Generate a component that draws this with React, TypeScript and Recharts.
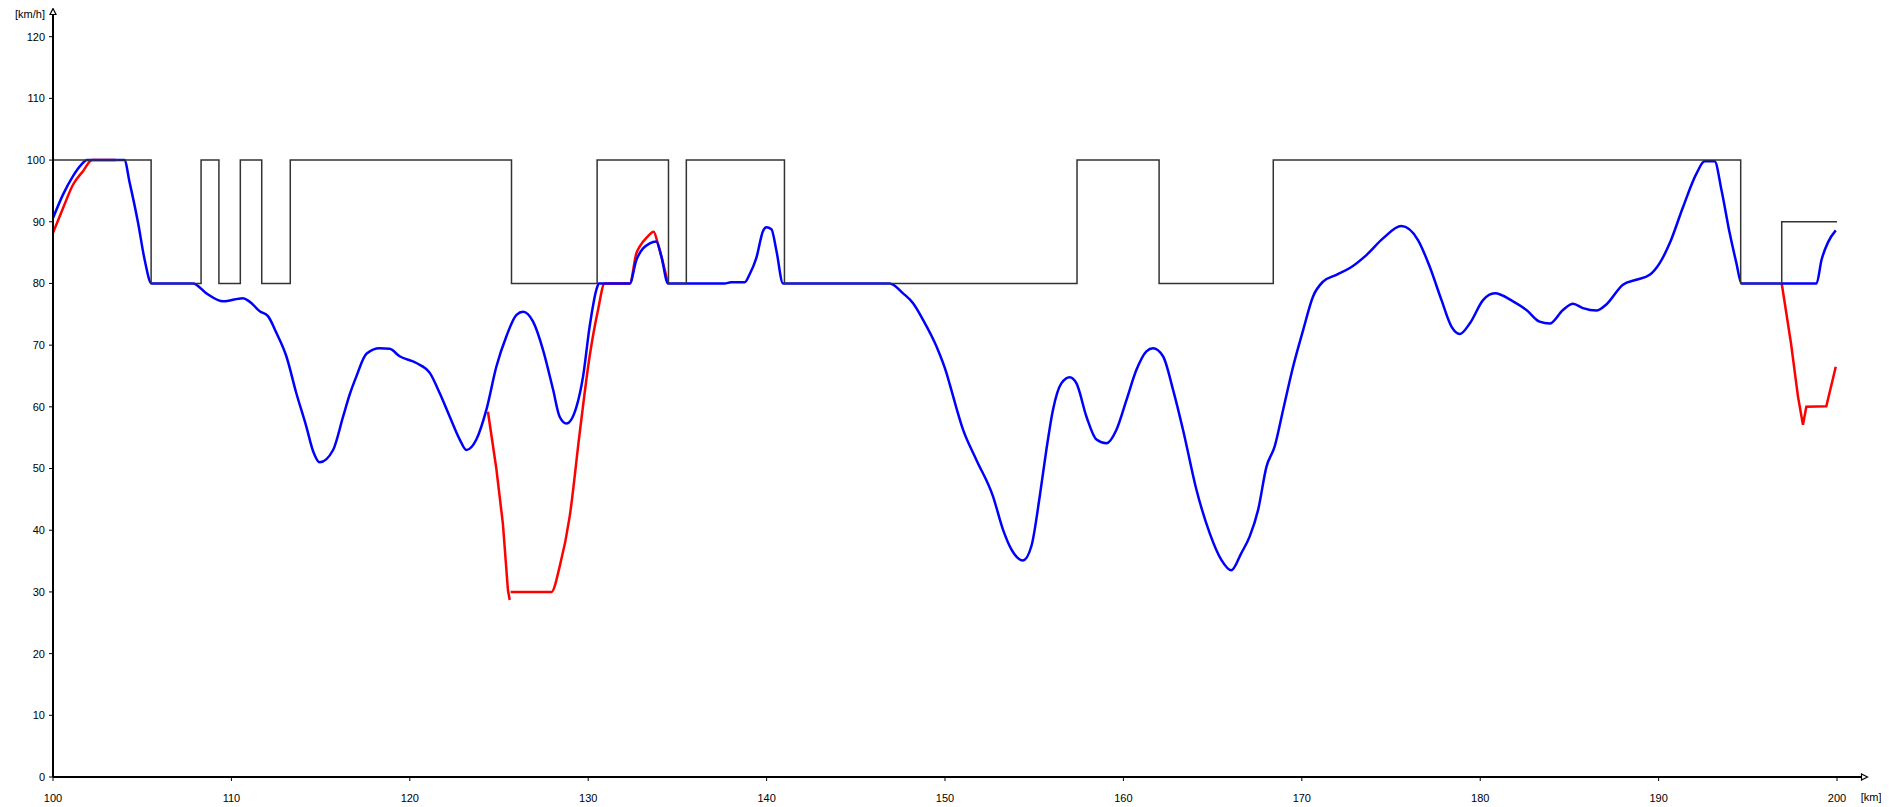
import React from 'react';
import { LineChart, Line, XAxis, YAxis, ReferenceDot } from 'recharts';

// speed limit (step), km -> km/h
const limitKm = [100, 105.5, 108.3, 109.3, 110.5, 111.7, 113.3, 125.7, 130.5, 134.5, 135.5, 141.0, 157.4, 162.0, 168.4, 194.6, 196.9, 200];
const limitKmh = [100, 80, 100, 80, 100, 80, 100, 80, 100, 80, 100, 80, 100, 80, 100, 80, 90, 90];

// driven speed (blue)
const speedKm = [
  100.0, 100.56, 101.12, 101.6, 101.9, 104.0, 104.3, 104.77, 105.14, 105.52, 107.85, 108.6, 109.53, 110.65, 111.0,
  111.59, 112.05, 112.52, 113.08, 113.64, 114.2, 114.58, 114.95, 115.7, 116.26, 116.63, 117.0, 117.57, 118.31, 118.87,
  119.43, 120.37, 121.12, 121.68, 122.24, 122.8, 123.17, 123.73, 124.29, 124.85, 125.41, 125.98, 126.35, 126.91, 127.47,
  128.03, 128.4, 128.78, 129.34, 129.71, 130.08, 130.46, 130.6, 132.33, 132.7, 133.45, 133.82, 134.1, 134.47, 137.65,
  138.0, 138.77, 139.05, 139.43, 139.8, 139.99, 140.27, 140.55, 140.92, 146.9, 147.65, 148.21, 148.77, 149.52, 150.08,
  150.27, 151.01, 151.76, 152.69, 153.25, 153.72, 154.37, 154.84, 155.31, 155.68, 156.05, 156.52, 156.99, 157.37, 157.93,
  158.49, 159.05, 159.61, 160.17, 160.73, 161.29, 161.66, 162.22, 162.78, 163.34, 164.09, 164.84, 165.49, 166.05, 166.61,
  167.08, 167.55, 168.02, 168.48, 168.95, 169.51, 170.07, 170.63, 171.19, 171.94, 172.69, 173.62, 174.55, 175.58, 176.52,
  177.17, 177.83, 178.39, 178.85, 179.41, 180.16, 180.81, 181.84, 182.59, 183.33, 183.89, 184.64, 185.2, 185.76, 186.51,
  187.07, 188.0, 188.75, 189.5, 190.06, 190.62, 191.37, 192.12, 192.58, 193.14, 193.52, 193.98, 194.36, 194.64, 198.85,
  199.13, 199.5, 199.93,
];
const speedKmh = [
  90.6, 94.4, 97.4, 99.3, 100, 100, 96.3, 89.8, 83.8, 80, 80, 78.4, 77.1, 77.6, 77.1,
  75.5, 74.7, 72.0, 68.2, 62.2, 56.8, 52.8, 51.0, 53.0, 58.4, 62.0, 64.9, 68.6, 69.5, 69.4,
  68.2, 67.1, 65.5, 62.2, 58.4, 54.7, 53.0, 54.7, 59.5, 66.5, 71.4, 74.9, 75.4, 73.8, 69.2,
  62.8, 58.4, 57.3, 60.0, 64.9, 73.0, 79.0, 80, 80, 83.8, 86.5, 86.8, 84.4, 80, 80,
  80.2, 80.2, 81.5, 84.2, 88.5, 89.1, 88.8, 85.3, 80, 80, 78.4, 76.8, 74.1, 69.8, 65.5,
  63.6, 56.3, 51.4, 45.5, 40.1, 36.9, 35.1, 37.4, 45.5, 53.0, 59.5, 63.8, 64.8, 63.8, 58.4,
  54.7, 54.1, 56.3, 61.1, 66.0, 69.0, 69.5, 68.2, 62.8, 56.3, 46.6, 39.5, 35.2, 33.5, 36.3,
  39.0, 43.3, 50.3, 53.6, 59.5, 66.5, 72.4, 77.9, 80.3, 81.4, 82.5, 84.6, 87.3, 89.3, 87.0,
  82.7, 77.3, 73.0, 71.8, 73.5, 77.3, 78.4, 77.1, 75.7, 73.8, 73.5, 75.7, 76.7, 76.0, 75.6,
  76.6, 79.8, 80.6, 81.4, 83.3, 86.5, 92.4, 97.8, 99.8, 99.8, 95.2, 88.2, 83.3, 80, 80,
  83.8, 86.7, 88.6,
];

// second run (red), only where it leaves the blue trace
const runAKm = [100.0, 100.56, 101.12, 101.68, 102.2, 103.5];
const runAKmh = [88.2, 92.2, 96.0, 98.2, 100, 100];
const runBKm = [124.38, 124.85, 125.22, 125.5, 125.6];
const runBKmh = [59.2, 50.0, 41.0, 30.3, 28.7];
const runB2Km = [125.65, 127.94, 128.4, 128.96, 129.52, 130.08, 130.55, 130.92, 132.33, 132.7, 132.89, 133.3, 133.67, 133.9, 134.1, 134.47];
const runB2Kmh = [30, 30, 34.1, 42.2, 55.7, 68.2, 75.7, 80, 80, 84.9, 86.0, 87.5, 88.4, 86.5, 84.4, 80];
const runCKm = [196.9, 197.42, 197.81, 198.09, 198.28, 199.4, 199.93];
const runCKmh = [80, 70.3, 61.7, 57.1, 60.0, 60.1, 66.5];

const xTicks = [100, 110, 120, 130, 140, 150, 160, 170, 180, 190, 200];
const yTicks = [0, 10, 20, 30, 40, 50, 60, 70, 80, 90, 100, 110, 120];

const rows = (km: number[], v: number[]) => km.map((k, i) => ({ km: k, v: v[i] }));

const FONT = 'Arial, "Liberation Sans", sans-serif';
const tickStyle = { fontSize: 11, fill: '#000', fontFamily: FONT };

const ArrowUp = (p: any) => (
  <path d={`M${p.cx},${p.cy - 3.5} L${p.cx - 3},${p.cy + 2.5} L${p.cx + 3},${p.cy + 2.5} Z`} fill="#fff" stroke="#000" strokeWidth={1.2} />
);
const ArrowRight = (p: any) => (
  <path d={`M${p.cx + 5.5},${p.cy} L${p.cx - 0.5},${p.cy - 3} L${p.cx - 0.5},${p.cy + 3} Z`} fill="#fff" stroke="#000" strokeWidth={1.2} />
);

export default function App() {
  return (
    <div style={{ position: 'relative', width: 1881, height: 799, background: '#fff', fontFamily: FONT }}>
      <LineChart width={1881} height={799} margin={{ top: 4, right: 27, bottom: 5, left: 5 }}>
        <XAxis
          type="number" dataKey="km" domain={[100, 201.4]} ticks={xTicks} interval={0}
          allowDataOverflow height={25} tick={tickStyle} tickSize={4} tickMargin={13}
          axisLine={{ stroke: '#000', strokeWidth: 2 }} tickLine={{ stroke: '#000' }}
        />
        <YAxis
          type="number" domain={[0, 124]} ticks={yTicks} interval={0} allowDataOverflow
          width={40} tick={tickStyle} tickSize={4} tickMargin={4}
          axisLine={{ stroke: '#000', strokeWidth: 2 }} tickLine={{ stroke: '#000' }}
        />
        <Line data={rows(runAKm, runAKmh)} dataKey="v" type="monotone" stroke="#ff0000" strokeWidth={2.5} dot={false} activeDot={false} isAnimationActive={false} />
        <Line data={rows(runBKm, runBKmh)} dataKey="v" type="linear" stroke="#ff0000" strokeWidth={2.5} dot={false} activeDot={false} isAnimationActive={false} />
        <Line data={rows(runB2Km, runB2Kmh)} dataKey="v" type="monotone" stroke="#ff0000" strokeWidth={2.5} dot={false} activeDot={false} isAnimationActive={false} />
        <Line data={rows(runCKm, runCKmh)} dataKey="v" type="linear" stroke="#ff0000" strokeWidth={2.5} dot={false} activeDot={false} isAnimationActive={false} />
        <Line data={rows(speedKm, speedKmh)} dataKey="v" type="monotone" stroke="#0000ff" strokeWidth={2.5} dot={false} activeDot={false} isAnimationActive={false} />
        <Line data={rows(limitKm, limitKmh)} dataKey="v" type="stepAfter" stroke="#333" strokeWidth={1.5} dot={false} activeDot={false} isAnimationActive={false} />
        <ReferenceDot x={100} y={124} ifOverflow="visible" shape={ArrowUp} />
        <ReferenceDot x={201.4} y={0} ifOverflow="visible" shape={ArrowRight} />
      </LineChart>
      <div style={{ position: 'absolute', left: 0, top: 0.7, width: 37, textAlign: 'right', fontSize: 11, lineHeight: '11px', whiteSpace: 'nowrap' }}>[km/h]</div>
      <div style={{ position: 'absolute', left: 1852.7, top: 784.4, fontSize: 11, lineHeight: '11px', whiteSpace: 'nowrap' }}>[km]</div>
    </div>
  );
}
